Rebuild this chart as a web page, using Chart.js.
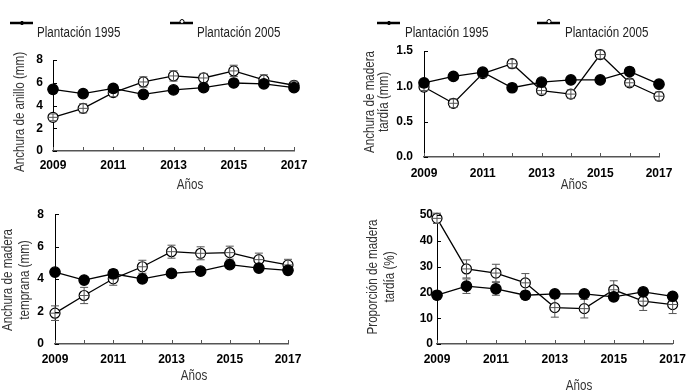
<!DOCTYPE html>
<html>
<head>
<meta charset="utf-8">
<script src="https://cdn.jsdelivr.net/npm/chart.js@4.4.1/dist/chart.umd.min.js"></script>
<style>
  body { margin: 0; background: #fff; }
  #wrap { position: relative; width: 694px; height: 392px; }
  canvas { position: absolute; }
</style>
</head>
<body>
<div id="wrap">
  <canvas id="ringChart" width="347" height="196" style="left:0;top:0"></canvas>
  <canvas id="lateChart" width="347" height="196" style="left:347px;top:0"></canvas>
  <canvas id="earlyChart" width="347" height="196" style="left:0;top:196px"></canvas>
  <canvas id="propChart" width="347" height="196" style="left:347px;top:196px"></canvas>
</div>
<script>
const years = ['2009', '2010', '2011', '2012', '2013', '2014', '2015', '2016', '2017'];
const shownYears = ['2009', '2011', '2013', '2015', '2017'];
const seriesNames = ['Plantación 1995', 'Plantación 2005'];

// Anchura de anillo (mm)
const ring1995 = [5.42, 5.04, 5.5, 4.98, 5.37, 5.57, 5.98, 5.9, 5.57];
const ring2005 = [2.96, 3.75, 5.13, 6.07, 6.6, 6.42, 7.04, 6.25, 5.78];
const ringErr1995 = [0.35, 0.3, 0.35, 0.3, 0.3, 0.3, 0.3, 0.3, 0.3];
const ringErr2005 = [0.3, 0.4, 0.35, 0.45, 0.45, 0.4, 0.5, 0.45, 0.35];

// Anchura de madera tardía (mm)
const late1995 = [1.05, 1.14, 1.2, 0.98, 1.06, 1.09, 1.09, 1.21, 1.03];
const late2005 = [0.99, 0.76, 1.18, 1.32, 0.94, 0.89, 1.45, 1.05, 0.86];
const lateErr1995 = [0.04, 0.04, 0.05, 0.04, 0.04, 0.04, 0.04, 0.05, 0.04];
const lateErr2005 = [0.05, 0.06, 0.05, 0.06, 0.05, 0.06, 0.06, 0.05, 0.06];

// Anchura de madera temprana (mm)
const early1995 = [4.43, 3.94, 4.33, 4.02, 4.35, 4.49, 4.89, 4.68, 4.54];
const early2005 = [1.9, 2.99, 4.02, 4.76, 5.69, 5.59, 5.63, 5.2, 4.87];
const earlyErr1995 = [0.2, 0.2, 0.25, 0.2, 0.2, 0.2, 0.2, 0.2, 0.2];
const earlyErr2005 = [0.45, 0.5, 0.4, 0.4, 0.4, 0.4, 0.4, 0.4, 0.35];

// Proporción de madera tardía (%)
const prop1995 = [18.9, 22.4, 21.4, 18.9, 19.4, 19.4, 18.3, 20.2, 18.5];
const prop2005 = [48.7, 29.1, 27.5, 23.7, 14.1, 13.7, 21.0, 16.6, 15.3];
const propErr1995 = [1.5, 2.8, 2.5, 1.5, 1.2, 1.2, 1.5, 1.5, 1.2];
const propErr2005 = [2.0, 3.5, 3.4, 3.6, 3.7, 3.6, 3.5, 3.6, 3.5];

const SANS = '"Liberation Sans", Arial, sans-serif';
const NARROW_SCALE = 0.83; // no narrow face installed, squeeze the regular one

function drawErrors(chart, i) {
  const ds = chart.data.datasets[i];
  if (!ds.errors) return;
  const meta = chart.getDatasetMeta(i);
  const y = chart.scales.y;
  const ctx = chart.ctx;
  ctx.save();
  ctx.strokeStyle = '#555';
  ctx.lineWidth = 1;
  meta.data.forEach((pt, j) => {
    const top = y.getPixelForValue(ds.data[j] + ds.errors[j]);
    const bot = y.getPixelForValue(ds.data[j] - ds.errors[j]);
    ctx.beginPath();
    ctx.moveTo(pt.x, top); ctx.lineTo(pt.x, bot);
    ctx.moveTo(pt.x - 4, top); ctx.lineTo(pt.x + 4, top);
    ctx.moveTo(pt.x - 4, bot); ctx.lineTo(pt.x + 4, bot);
    if (ds.errOnTop) {
      ctx.moveTo(pt.x - 5, pt.y); ctx.lineTo(pt.x + 5, pt.y);
    }
    ctx.stroke();
  });
  ctx.restore();
}

const errorBars = {
  id: 'errorBars',
  beforeDatasetDraw(chart, args) {
    if (!chart.data.datasets[args.index].errOnTop) drawErrors(chart, args.index);
  },
  afterDatasetDraw(chart, args) {
    if (chart.data.datasets[args.index].errOnTop) drawErrors(chart, args.index);
  }
};

// tick marks pointing into the plot
const innerTicks = {
  id: 'innerTicks',
  afterDraw(chart) {
    const { ctx, chartArea: a, scales: { x, y } } = chart;
    ctx.save();
    ctx.lineWidth = 1;
    ctx.strokeStyle = '#555';
    x.ticks.forEach((t, i) => {
      const px = Math.round(x.getPixelForTick(i)) + 0.5;
      ctx.beginPath(); ctx.moveTo(px, a.bottom); ctx.lineTo(px, a.bottom - 4); ctx.stroke();
    });
    ctx.strokeStyle = '#000';
    y.ticks.forEach((t, i) => {
      const py = Math.round(y.getPixelForTick(i)) + 0.5;
      ctx.beginPath(); ctx.moveTo(a.left, py); ctx.lineTo(a.left + 4, py); ctx.stroke();
    });
    ctx.restore();
  }
};

function narrowText(ctx, text, x, y, rotate) {
  ctx.save();
  ctx.translate(x, y);
  if (rotate) ctx.rotate(-Math.PI / 2);
  ctx.scale(NARROW_SCALE, 1);
  ctx.fillText(text, 0, 0);
  ctx.restore();
}

// axis titles and the legend, placed like the original figure
const decor = {
  id: 'decor',
  afterDraw(chart, args, opts) {
    const ctx = chart.ctx;
    ctx.save();
    ctx.fillStyle = '#333';
    ctx.font = '14px ' + SANS;
    ctx.textAlign = 'center';
    ctx.textBaseline = 'middle';
    narrowText(ctx, opts.xTitle.text, opts.xTitle.x, opts.xTitle.y, false);
    opts.yTitle.lines.forEach(l => narrowText(ctx, l.text, l.x, opts.yTitle.y, true));
    if (opts.legend) {
      opts.legend.forEach((item, i) => {
        const ds = chart.data.datasets[i];
        ctx.strokeStyle = '#000';
        ctx.lineWidth = 2.5;
        ctx.beginPath(); ctx.moveTo(item.x, item.y); ctx.lineTo(item.x + 23, item.y); ctx.stroke();
        ctx.lineWidth = 1;
        ctx.fillStyle = ds.pointBackgroundColor;
        ctx.beginPath(); ctx.arc(item.x + 12, item.y - (i ? 1.5 : 0), i ? 2 : 1.6, 0, Math.PI * 2);
        ctx.fill(); ctx.stroke();
        ctx.fillStyle = '#222';
        ctx.textAlign = 'left';
        narrowText(ctx, ds.label, item.tx, item.ty, false);
      });
    }
    ctx.restore();
  }
};

function makePanel(id, p) {
  new Chart(document.getElementById(id), {
    type: 'line',
    data: {
      labels: years,
      datasets: [{
        label: seriesNames[0],
        data: p.a,
        errors: p.errA,
        errOnTop: false,
        borderColor: '#000',
        borderWidth: 1.3,
        pointRadius: 5.2,
        pointBackgroundColor: '#000',
        pointBorderColor: '#000',
        clip: false
      }, {
        label: seriesNames[1],
        data: p.b,
        errors: p.errB,
        errOnTop: true,
        borderColor: '#000',
        borderWidth: 1.3,
        pointRadius: 5,
        pointBorderWidth: 1.2,
        pointBackgroundColor: '#fff',
        pointBorderColor: '#000',
        clip: false
      }]
    },
    options: {
      responsive: false,
      animation: false,
      events: [],
      layout: { padding: { left: 0, top: p.top, right: p.right, bottom: 0 } },
      plugins: {
        legend: { display: false },
        tooltip: { enabled: false },
        decor: p.decor
      },
      scales: {
        x: {
          offset: false,
          grid: { display: false, drawTicks: false },
          border: { color: '#555', width: 1.5 },
          ticks: {
            autoSkip: false, maxRotation: 0, minRotation: 0,
            padding: p.xPad,
            color: '#000',
            font: { family: SANS, size: 12, weight: 'bold' },
            callback: (v, i) => shownYears.includes(years[i]) ? years[i] : ''
          },
          afterFit: s => { s.height = p.xH; }
        },
        y: {
          min: 0, max: p.max,
          grid: { display: false, drawTicks: false },
          border: { color: '#000', width: 1 },
          ticks: {
            stepSize: p.step,
            padding: p.yPad,
            color: '#000',
            font: { family: SANS, size: 12, weight: 'bold' },
            callback: v => p.fixed ? v.toFixed(p.fixed) : v
          },
          afterFit: s => { s.width = p.left; }
        }
      }
    },
    plugins: [errorBars, innerTicks, decor]
  });
}

makePanel('ringChart', {
  a: ring1995, b: ring2005, errA: ringErr1995, errB: ringErr2005,
  max: 8, step: 2, left: 53, right: 53, top: 60, xH: 45, xPad: 7, yPad: 10,
  decor: {
    xTitle: { text: 'Años', x: 190, y: 185 },
    yTitle: { y: 112, lines: [{ text: 'Anchura de anillo (mm)', x: 20 }] },
    legend: [{ x: 10, y: 23, tx: 37, ty: 33 }, { x: 170, y: 23, tx: 197, ty: 33 }]
  }
});

makePanel('lateChart', {
  a: late1995, b: late2005, errA: lateErr1995, errB: lateErr2005,
  max: 1.5, step: 0.5, fixed: 1, left: 77, right: 35, top: 51, xH: 39, xPad: 9, yPad: 11,
  decor: {
    xTitle: { text: 'Años', x: 227, y: 185 },
    yTitle: { y: 102, lines: [{ text: 'Anchura de madera', x: 23 }, { text: 'tardía (mm)', x: 37.5 }] },
    legend: [{ x: 30, y: 23, tx: 58, ty: 33 }, { x: 190, y: 23, tx: 218, ty: 33 }]
  }
});

makePanel('earlyChart', {
  a: early1995, b: early2005, errA: earlyErr1995, errB: earlyErr2005,
  max: 8, step: 2, left: 55, right: 59, top: 18, xH: 48, xPad: 8, yPad: 11,
  decor: {
    xTitle: { text: 'Años', x: 194, y: 180 },
    yTitle: { y: 84, lines: [{ text: 'Anchura de madera', x: 8.5 }, { text: 'temprana (mm)', x: 25 }] }
  }
});

makePanel('propChart', {
  a: prop1995, b: prop2005, errA: propErr1995, errB: propErr2005,
  max: 50, step: 10, left: 90, right: 18, top: 19, xH: 48, xPad: 8, yPad: 4,
  decor: {
    xTitle: { text: 'Años', x: 232, y: 190 },
    yTitle: { y: 81, lines: [{ text: 'Proporción de madera', x: 26 }, { text: 'tardía (%)', x: 43 }] }
  }
});
</script>
</body>
</html>
